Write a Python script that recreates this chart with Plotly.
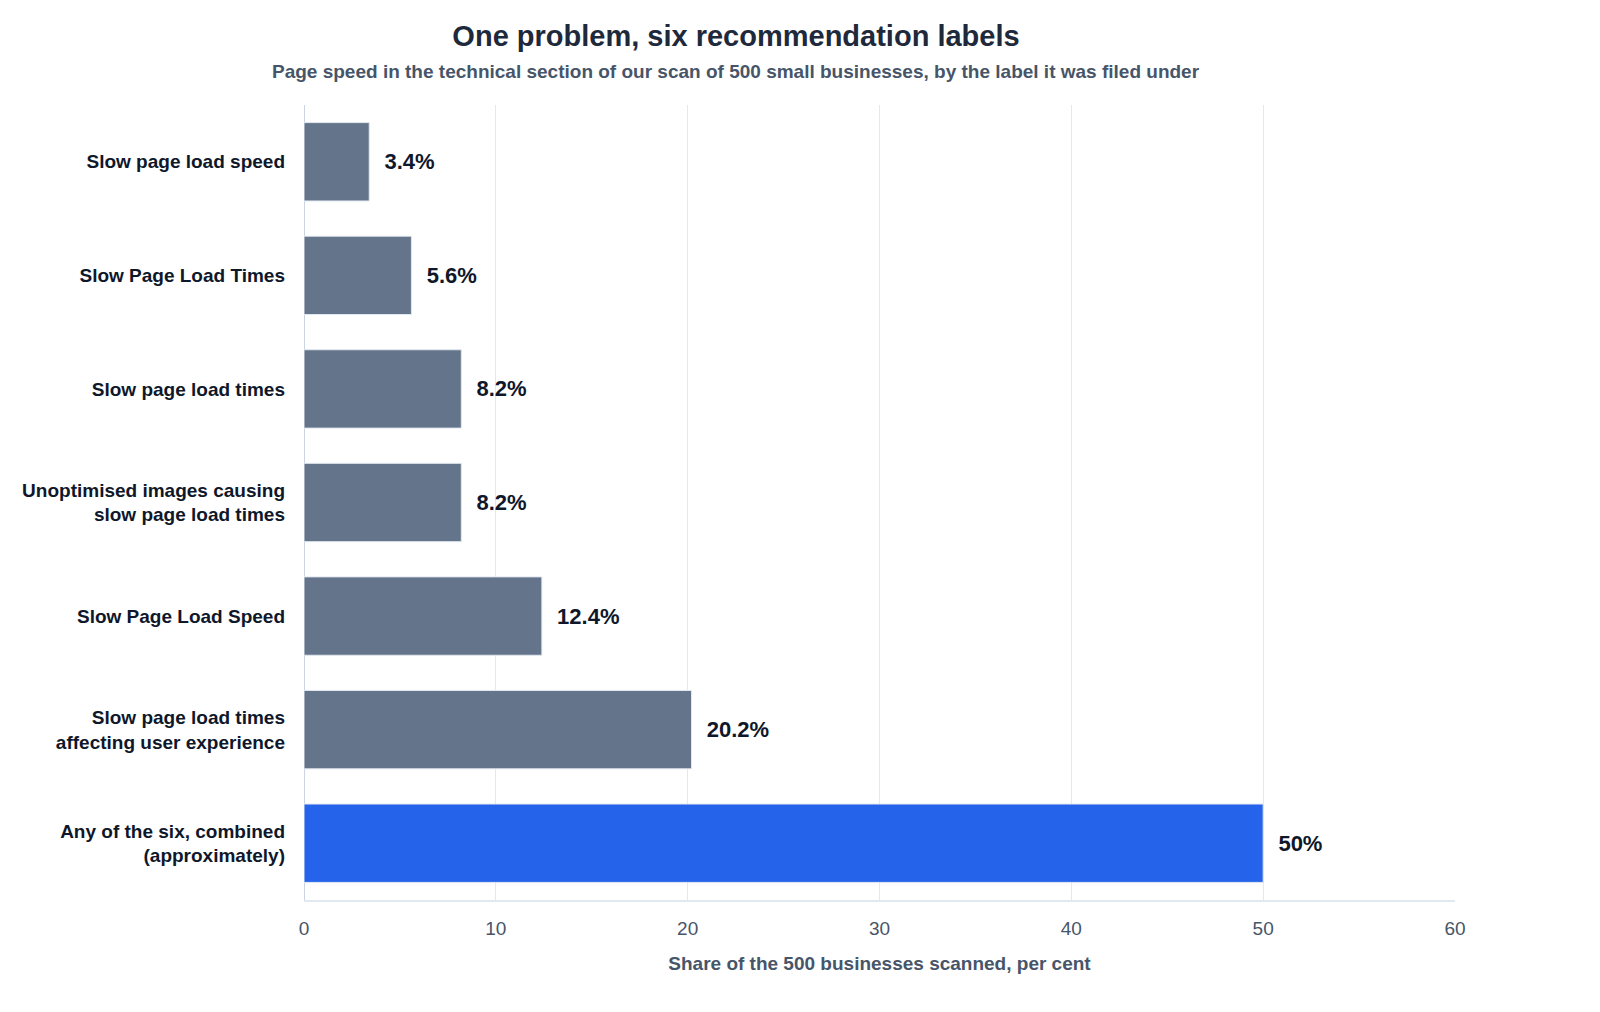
import plotly.graph_objects as go

categories = [
    "Slow page load speed",
    "Slow Page Load Times",
    "Slow page load times",
    "Unoptimised images causing<br>slow page load times",
    "Slow Page Load Speed",
    "Slow page load times<br>affecting user experience",
    "Any of the six, combined<br>(approximately)",
]
values = [3.4, 5.6, 8.2, 8.2, 12.4, 20.2, 50]
value_labels = ["3.4%", "5.6%", "8.2%", "8.2%", "12.4%", "20.2%", "50%"]
bar_colors = ["#64748b"] * 6 + ["#2563eb"]
x_ticks = [0, 10, 20, 30, 40, 50, 60]

TITLE = "One problem, six recommendation labels"
SUBTITLE = "Page speed in the technical section of our scan of 500 small businesses, by the label it was filed under"
X_TITLE = "Share of the 500 businesses scanned, per cent"

FONT = "Liberation Sans, Arial, sans-serif"

W, H = 1600, 1012
L, R, T, B = 296, 153, 97, 120
PW, PH = W - L - R, H - T - B

fig = go.Figure(go.Bar(
    x=values,
    y=categories,
    orientation="h",
    marker=dict(color=bar_colors, line=dict(color="#e2e8f0", width=1)),
    text=value_labels,
    texttemplate="\u00a0\u00a0%{text}",
    textposition="outside",
    textfont=dict(family=FONT, size=22, color="#0f172a", weight="bold"),
    cliponaxis=False,
    hoverinfo="skip",
))

fig.update_layout(
    width=W, height=H,
    paper_bgcolor="#ffffff", plot_bgcolor="#ffffff",
    margin=dict(l=L, r=R, t=T, b=B),
    bargap=0.31,
    showlegend=False,
    font=dict(family=FONT),
    title=dict(
        text="<b>" + TITLE + "</b>",
        x=728 / W, xanchor="center", xref="container",
        y=1 - 28 / H, yanchor="middle", yref="container",
        font=dict(family=FONT, size=29, color="#1e293b"),
    ),
    annotations=[dict(
        text="<b>" + SUBTITLE + "</b>",
        xref="paper", yref="paper",
        x=(727.5 - L) / PW, y=(T + PH - 63) / PH,
        xanchor="center", yanchor="middle", showarrow=False,
        font=dict(family=FONT, size=19, color="#475569"),
    )],
    xaxis=dict(
        range=[0, 60], tickvals=x_ticks,
        showgrid=True, gridcolor="#e2e8f0", gridwidth=1,
        zeroline=True, zerolinecolor="#cbd5e1", zerolinewidth=1,
        showline=True, linecolor="#e2e8f0", linewidth=2,
        ticks="", ticklabelstandoff=10,
        tickfont=dict(family=FONT, size=19, color="#475569"),
        title=dict(text="<b>" + X_TITLE + "</b>",
                   font=dict(family=FONT, size=19, color="#475569"), standoff=19),
    ),
    yaxis=dict(
        categoryorder="array", categoryarray=categories, autorange="reversed",
        showgrid=False, zeroline=False, showline=False,
        ticks="", ticklabelstandoff=18,
        tickfont=dict(family=FONT, size=19, color="#0f172a", weight="bold"),
    ),
)

fig.write_html("out.html")
